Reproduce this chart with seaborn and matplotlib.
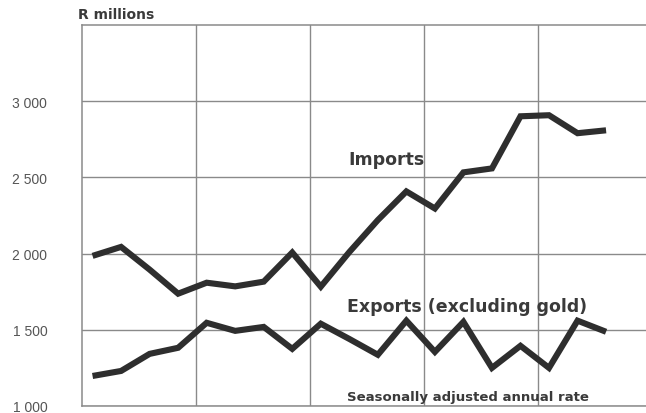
import matplotlib
matplotlib.use("Agg")
import matplotlib.pyplot as plt
import seaborn as sns
import pandas as pd

# Quarterly observations, seasonally adjusted annual rate (R millions)
period = [0, 1, 2, 3, 4, 5, 6, 7, 8, 9, 10, 11, 12, 13, 14, 15, 16, 17, 18]
imports = [1985, 2044, 1895, 1737, 1809, 1785, 1816, 2007, 1783, 2010,
           2220, 2408, 2296, 2533, 2559, 2901, 2908, 2790, 2809]
exports = [1197, 1230, 1342, 1382, 1546, 1493, 1519, 1375, 1540, 1440,
           1336, 1560, 1355, 1552, 1250, 1395, 1250, 1560, 1487]
y_ticks = [1000, 1500, 2000, 2500, 3000]
y_labels = ["1 000", "1 500", "2 000", "2 500", "3 000"]
year_breaks = [3.62, 7.62, 11.62, 15.62]

df = pd.DataFrame({
    "period": period * 2,
    "value": imports + exports,
    "series": ["Imports"] * len(period) + ["Exports"] * len(period),
})

sns.set_theme(style="white")
plt.rcParams["font.family"] = ["DejaVu Sans"]

W, H = 646, 414
fig = plt.figure(figsize=(W / 100, H / 100), dpi=100)
left, right, top, bottom = 82, 646, 26, 407
ax = fig.add_axes([left / W, (H - bottom) / H, (right - left) / W, (bottom - top) / H])

line_col = "#2e2e2e"
grid_col = "#8a8a8a"
text_col = "#3a3a3a"

sns.lineplot(data=df, x="period", y="value", hue="series",
             palette={"Imports": line_col, "Exports": line_col},
             linewidth=4.4, legend=False, ax=ax, sort=False)
for ln in ax.lines:
    ln.set_solid_joinstyle("miter")
    ln.set_solid_capstyle("butt")

ax.set_xlim(-0.37, 19.4)
ax.set_ylim(1000, 3500)
ax.set_xticks(year_breaks)
ax.set_xticklabels([])
ax.set_yticks(y_ticks)
ax.set_yticklabels(y_labels, family=["Liberation Sans", "DejaVu Sans"],
                   fontsize=10, color="#555555")
ax.tick_params(axis="y", length=0, pad=25)
ax.tick_params(axis="x", length=0)
ax.set_xlabel("")
ax.set_ylabel("")
ax.grid(True, color=grid_col, linewidth=1.0)
ax.set_axisbelow(True)
for side in ["left", "top", "bottom"]:
    ax.spines[side].set_color(grid_col)
    ax.spines[side].set_linewidth(1.1)
ax.spines["right"].set_visible(False)

def fx(px):
    return px / W

def fy(py):
    return 1 - py / H

fig.text(fx(78), fy(15), "R millions", ha="left", va="center",
         fontsize=10, fontweight="bold", color=text_col)
fig.text(fx(387), fy(160), "Imports", ha="center", va="center",
         fontsize=12.5, fontweight="bold", color=text_col)
fig.text(fx(467), fy(307), "Exports (excluding gold)", ha="center", va="center",
         fontsize=12.5, fontweight="bold", color=text_col)
fig.text(fx(468), fy(398), "Seasonally adjusted annual rate", ha="center", va="center",
         fontsize=9.5, fontweight="bold", color=text_col)

fig.savefig("out.png", dpi=100)
